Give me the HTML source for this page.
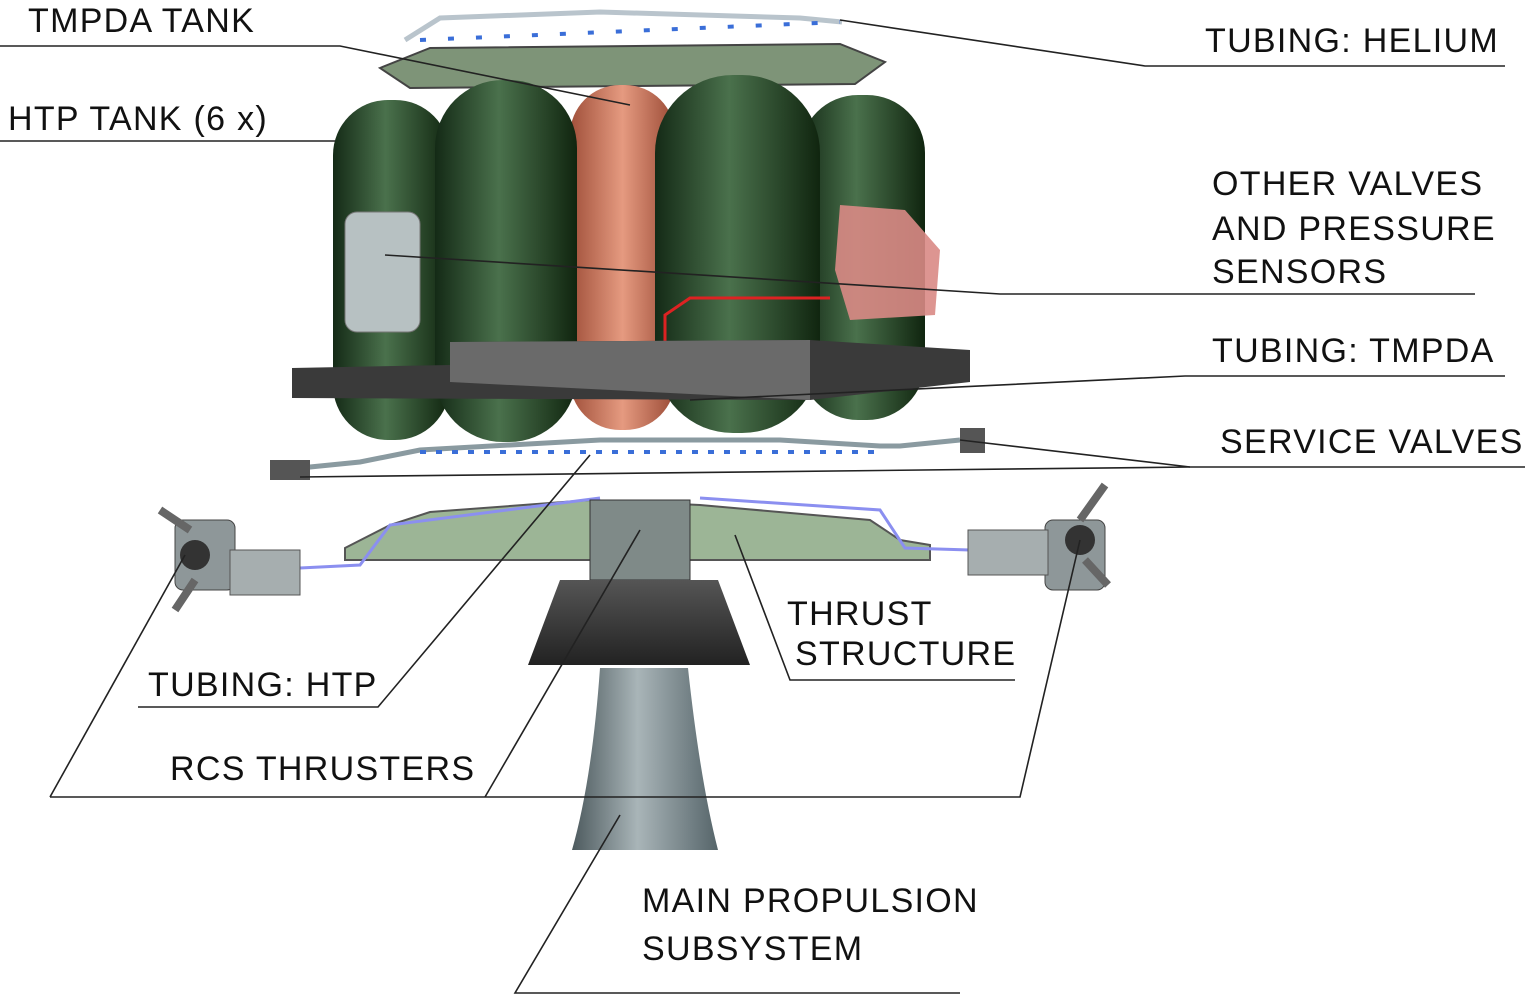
<!DOCTYPE html>
<html><head><meta charset="utf-8"><style>
html,body{margin:0;padding:0;background:#fff;}
svg{display:block}
text{font-family:"Liberation Sans",sans-serif;font-size:34px;letter-spacing:1.3px;fill:#111}
</style></head><body>
<svg width="1532" height="1001" viewBox="0 0 1532 1001" xmlns="http://www.w3.org/2000/svg">
<defs>
<linearGradient id="g" x1="0" x2="1"><stop offset="0" stop-color="#142a16"/><stop offset="0.45" stop-color="#4a714c"/><stop offset="1" stop-color="#10250f"/></linearGradient>
<linearGradient id="o" x1="0" x2="1"><stop offset="0" stop-color="#a0503a"/><stop offset="0.5" stop-color="#e59a80"/><stop offset="1" stop-color="#9a4a35"/></linearGradient>
<linearGradient id="n" x1="0" x2="1"><stop offset="0" stop-color="#4d5a5e"/><stop offset="0.45" stop-color="#a9b5b8"/><stop offset="1" stop-color="#56656a"/></linearGradient>
<linearGradient id="c" x1="0" x2="0" y1="0" y2="1"><stop offset="0" stop-color="#555"/><stop offset="1" stop-color="#222"/></linearGradient>
</defs>
<polygon points="380,68 430,48 840,44 885,62 855,84 410,88" fill="#7e9478" stroke="#444" stroke-width="2"/>
<path d="M405,40 L440,18 L600,12 L800,18 L842,22" fill="none" stroke="#b9c4cc" stroke-width="5"/>
<path d="M420,40 L840,22" stroke="#3a6ed8" stroke-width="4" stroke-dasharray="6 22"/>
<rect x="333" y="100" width="117" height="340" rx="55" fill="url(#g)"/>
<rect x="800" y="95" width="125" height="325" rx="58" fill="url(#g)"/>
<rect x="570" y="85" width="105" height="345" rx="50" fill="url(#o)"/>
<rect x="435" y="80" width="142" height="362" rx="68" fill="url(#g)"/>
<rect x="655" y="75" width="165" height="358" rx="78" fill="url(#g)"/>
<rect x="345" y="212" width="75" height="120" rx="12" fill="#b7c1c2" stroke="#777"/>
<path d="M840,205 L905,210 L940,250 L935,315 L850,320 L835,270 Z" fill="#d98a85" opacity="0.9"/>
<path d="M665,380 L665,315 L690,298 L830,298" fill="none" stroke="#d22" stroke-width="3"/>
<polygon points="450,342 810,340 970,350 970,382 810,400 292,398 292,368 450,365" fill="#3a3a3a"/>
<polygon points="450,342 810,340 810,400 450,382" fill="#6a6a6a"/>
<path d="M300,468 L360,462 L420,450 L600,440 L780,440 L880,446 L900,446 L960,440" fill="none" stroke="#8a9aa0" stroke-width="5"/>
<path d="M420,452 L880,452" stroke="#3a6ed8" stroke-width="4" stroke-dasharray="6 10"/>
<rect x="270" y="460" width="40" height="20" fill="#555"/>
<rect x="960" y="428" width="25" height="25" fill="#555"/>
<polygon points="345,548 390,525 430,512 590,500 700,505 870,520 900,540 930,545 930,560 345,560" fill="#9cb596" stroke="#555" stroke-width="2"/>
<path d="M300,568 L360,565 L390,525 L600,498 M700,498 L880,510 L905,548 L970,550" fill="none" stroke="#8b8ff0" stroke-width="3"/>
<rect x="590" y="500" width="100" height="80" fill="#7f8a88" stroke="#333"/>
<polygon points="560,580 718,580 750,665 528,665" fill="url(#c)"/>
<path d="M600,668 L688,668 Q700,780 718,850 L572,850 Q592,780 600,668 Z" fill="url(#n)"/>
<rect x="175" y="520" width="60" height="70" rx="8" fill="#8e9799" stroke="#444"/>
<rect x="230" y="550" width="70" height="45" fill="#a6aeaf" stroke="#555"/>
<circle cx="195" cy="555" r="15" fill="#333"/>
<path d="M160,510 L190,530 M175,610 L195,580" stroke="#666" stroke-width="8"/>
<rect x="1045" y="520" width="60" height="70" rx="8" fill="#8e9799" stroke="#444"/>
<rect x="968" y="530" width="80" height="45" fill="#a6aeaf" stroke="#555"/>
<circle cx="1080" cy="540" r="15" fill="#333"/>
<path d="M1105,485 L1080,520 M1108,585 L1085,560" stroke="#666" stroke-width="8"/>
<g fill="none" stroke="#222" stroke-width="1.6">
<path d="M0,46 L340,46 L630,105"/>
<path d="M0,141 L335,141"/>
<path d="M1505,66 L1145,66 L840,20"/>
<path d="M1475,294 L1000,294 L385,255"/>
<path d="M1505,376 L1185,376 L690,400"/>
<path d="M1525,467 L1190,467 L960,440"/>
<path d="M300,477 L1190,467"/>
<path d="M1015,680 L790,680 L735,535"/>
<path d="M138,707 L378,707 L590,455"/>
<path d="M50,797 L1020,797 L1080,540"/>
<path d="M50,797 L185,555"/>
<path d="M485,797 L640,530"/>
<path d="M960,993 L515,993 L620,815"/>
</g>
<text x="28" y="32">TMPDA TANK</text>
<text x="8" y="130">HTP TANK (6 x)</text>
<text x="1205" y="52">TUBING: HELIUM</text>
<text x="1212" y="195">OTHER VALVES</text>
<text x="1212" y="240">AND PRESSURE</text>
<text x="1212" y="283">SENSORS</text>
<text x="1212" y="362">TUBING: TMPDA</text>
<text x="1220" y="453">SERVICE VALVES</text>
<text x="787" y="625">THRUST</text>
<text x="795" y="665">STRUCTURE</text>
<text x="148" y="696">TUBING: HTP</text>
<text x="170" y="780">RCS THRUSTERS</text>
<text x="642" y="912">MAIN PROPULSION</text>
<text x="642" y="960">SUBSYSTEM</text>
</svg>
</body></html>
